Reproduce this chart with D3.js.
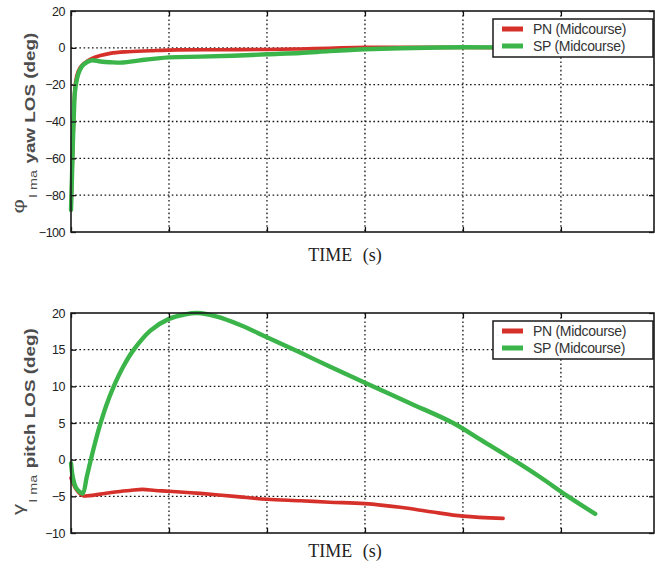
<!DOCTYPE html>
<html>
<head>
<meta charset="utf-8">
<script src="https://cdn.jsdelivr.net/npm/d3@7"></script>
<style>
  html, body { margin: 0; padding: 0; background: #fff; }
  svg { display: block; }
</style>
</head>
<body>
<svg id="chart" width="655" height="569"></svg>
<script>
// ---- data ----
const timeTicks = [0, 10, 20, 30, 40, 50];
const seriesNames = ["PN (Midcourse)", "SP (Midcourse)"];
const seriesColors = ["#d6302b", "#3bb44a"];

// yaw LOS angle (deg) vs time (s)
const yawTicks = [-100, -80, -60, -40, -20, 0, 20];
const yawPNTime = [0, 0.1, 0.2, 0.3, 0.4, 0.6, 0.9, 1.3, 2.1, 3.0, 4.0, 5.5, 8.1, 10.8, 15.2, 20, 23.4, 26.4, 30, 33.6, 40, 46, 52];
const yawPN     = [-88, -70, -50, -35, -22, -15, -11, -8.5, -5.8, -4.2, -3.0, -2.2, -1.6, -1.1, -1.0, -0.9, -0.6, -0.2, 0.3, 0.3, 0.2, 0.1, 0.1];
const yawSPTime = [0, 0.1, 0.2, 0.3, 0.4, 0.6, 0.9, 1.3, 2.1, 3.0, 4.0, 5.3, 7.0, 10, 13.2, 16.5, 20, 23.4, 26.4, 30, 33.6, 40, 46, 52];
const yawSP     = [-88, -70, -50, -35, -24, -17, -12, -9, -6.8, -7.4, -7.8, -8.0, -6.8, -5.2, -4.8, -4.3, -3.5, -2.8, -1.8, -0.8, -0.2, 0.3, 0.2, 0.2];

// pitch LOS angle (deg) vs time (s)
const pitchTicks = [-10, -5, 0, 5, 10, 15, 20];
const pitchPNTime = [0, 0.5, 1.2, 1.9, 3.0, 4.5, 6.0, 7.3, 8.6, 10, 13.2, 16.7, 20, 23.4, 26.4, 30, 33.6, 36.7, 40, 44.1];
const pitchPN     = [-2.5, -4.0, -4.9, -4.9, -4.7, -4.4, -4.2, -4.05, -4.2, -4.3, -4.6, -5.0, -5.4, -5.6, -5.8, -6.0, -6.5, -7.1, -7.7, -8.0];
const pitchSPTime = [0, 0.2, 0.5, 0.9, 1.2, 1.6, 1.9, 2.4, 3.0, 3.6, 4.3, 5.3, 6.3, 8.1, 10, 11.6, 12.9, 14.9, 17.2, 20, 23.4, 26.4, 30, 34.6, 39.0, 41.7, 45.0, 47.9, 50.6, 53.5];
const pitchSP     = [-0.5, -2.5, -3.8, -4.4, -4.6, -2.4, -0.7, 2.0, 4.9, 7.4, 9.8, 12.6, 14.8, 17.6, 19.2, 19.8, 20.0, 19.5, 18.4, 16.7, 14.6, 12.7, 10.5, 7.7, 5.0, 2.8, 0.1, -2.4, -4.9, -7.4];

// ---- drawing ----
const svg = d3.select("#chart");
const plotLeft = 71, plotRight = 654;

function zip(t, v) { return t.map((d, i) => ({ t: d, v: v[i] })); }

function drawPanel(opts) {
  const { top, bottom, yDomain, yTickValues, symbol, labelText, series, xTitleY } = opts;
  const g = svg.append("g");
  const x = d3.scaleLinear().domain([0, 59.5]).range([plotLeft, plotRight]);
  const y = d3.scaleLinear().domain(yDomain).range([bottom, top]);
  const W = plotRight - plotLeft, H = bottom - top;

  // dotted grid
  const grid = g.append("g").attr("stroke", "#151515").attr("stroke-width", 1.3)
    .attr("stroke-dasharray", "1.6,2.6").attr("fill", "none");
  grid.selectAll("line.v").data(timeTicks.filter(d => d > 0)).join("line")
    .attr("x1", d => x(d)).attr("x2", d => x(d)).attr("y1", top).attr("y2", bottom);
  grid.selectAll("line.h").data(yTickValues.slice(1, -1)).join("line")
    .attr("x1", plotLeft).attr("x2", plotRight).attr("y1", d => y(d)).attr("y2", d => y(d));

  // curves
  const line = d3.line().x(d => x(d.t)).y(d => y(d.v)).curve(d3.curveCatmullRom.alpha(0.5));
  series.forEach((s, i) => {
    g.append("path").datum(s)
      .attr("fill", "none")
      .attr("stroke", seriesColors[i])
      .attr("stroke-width", i === 0 ? 3.6 : 4.4)
      .attr("stroke-linejoin", "round").attr("stroke-linecap", "round")
      .attr("d", line);
  });

  // axes with inward ticks on all four sides
  const fmt = d3.format("d");
  const left = g.append("g").attr("transform", `translate(${plotLeft},0)`)
    .call(d3.axisLeft(y).tickValues(yTickValues).tickSize(-5).tickPadding(6).tickFormat(fmt));
  left.select(".domain").remove();
  left.selectAll("line").attr("stroke", "#111").attr("stroke-width", 1.3);
  left.selectAll("text").attr("font-family", "Liberation Sans, Arial, sans-serif")
    .attr("font-size", 12.5).attr("fill", "#222").attr("letter-spacing", -0.5);
  const right = g.append("g").attr("transform", `translate(${plotRight},0)`)
    .call(d3.axisRight(y).tickValues(yTickValues).tickSize(-5).tickFormat(""));
  right.select(".domain").remove();
  right.selectAll("line").attr("stroke", "#111").attr("stroke-width", 1.3);
  const bot = g.append("g").attr("transform", `translate(0,${bottom})`)
    .call(d3.axisBottom(x).tickValues(timeTicks).tickSize(-5).tickFormat(""));
  bot.select(".domain").remove();
  bot.selectAll("line").attr("stroke", "#111").attr("stroke-width", 1.3);
  const topAx = g.append("g").attr("transform", `translate(0,${top})`)
    .call(d3.axisTop(x).tickValues(timeTicks).tickSize(-5).tickFormat(""));
  topAx.select(".domain").remove();
  topAx.selectAll("line").attr("stroke", "#111").attr("stroke-width", 1.3);

  g.append("rect").attr("x", plotLeft).attr("y", top).attr("width", W).attr("height", H)
    .attr("fill", "none").attr("stroke", "#1a1a1a").attr("stroke-width", 1.6);

  // legend
  const lg = g.append("g").attr("transform", `translate(493,${top + 8})`);
  lg.append("rect").attr("width", 160).attr("height", 38)
    .attr("fill", "#fff").attr("stroke", "#1a1a1a").attr("stroke-width", 1.5);
  seriesNames.forEach((name, i) => {
    const yy = 10 + i * 17;
    lg.append("line").attr("x1", 9).attr("x2", 30).attr("y1", yy).attr("y2", yy)
      .attr("stroke", seriesColors[i]).attr("stroke-width", 5);
    lg.append("text").attr("x", 40).attr("y", yy + 5)
      .attr("font-family", "Liberation Sans, Arial, sans-serif").attr("font-size", 14)
      .attr("fill", "#333").attr("letter-spacing", -0.3).text(name);
  });

  // y-axis title (rotated)
  const cy = (top + bottom) / 2;
  const yl = g.append("text")
    .attr("transform", `translate(35,${cy + 92}) rotate(-90) scale(1.3,1)`)
    .attr("font-family", "Liberation Sans, Arial, sans-serif").attr("fill", "#4d4d4d");
  yl.append("tspan").attr("font-size", 17).attr("dy", -11).text(symbol);
  yl.append("tspan").attr("font-size", 11).attr("dy", 13).attr("dx", 1).text("I ma");
  yl.append("tspan").attr("font-size", 14.5).attr("font-weight", "bold").attr("dy", -2).attr("dx", 5).text(labelText);

  // x-axis title
  g.append("text").attr("x", 345).attr("y", xTitleY).attr("text-anchor", "middle")
    .attr("font-family", "Liberation Serif, Times New Roman, serif").attr("font-size", 18)
    .attr("word-spacing", 6).attr("fill", "#222").text("TIME (s)");
}

drawPanel({
  top: 11, bottom: 232, yDomain: [-100, 20], yTickValues: yawTicks,
  symbol: "φ", labelText: "yaw LOS (deg)",
  series: [zip(yawPNTime, yawPN), zip(yawSPTime, yawSP)], xTitleY: 261
});
drawPanel({
  top: 313, bottom: 533, yDomain: [-10, 20], yTickValues: pitchTicks,
  symbol: "γ", labelText: "pitch LOS (deg)",
  series: [zip(pitchPNTime, pitchPN), zip(pitchSPTime, pitchSP)], xTitleY: 557
});
</script>
</body>
</html>
